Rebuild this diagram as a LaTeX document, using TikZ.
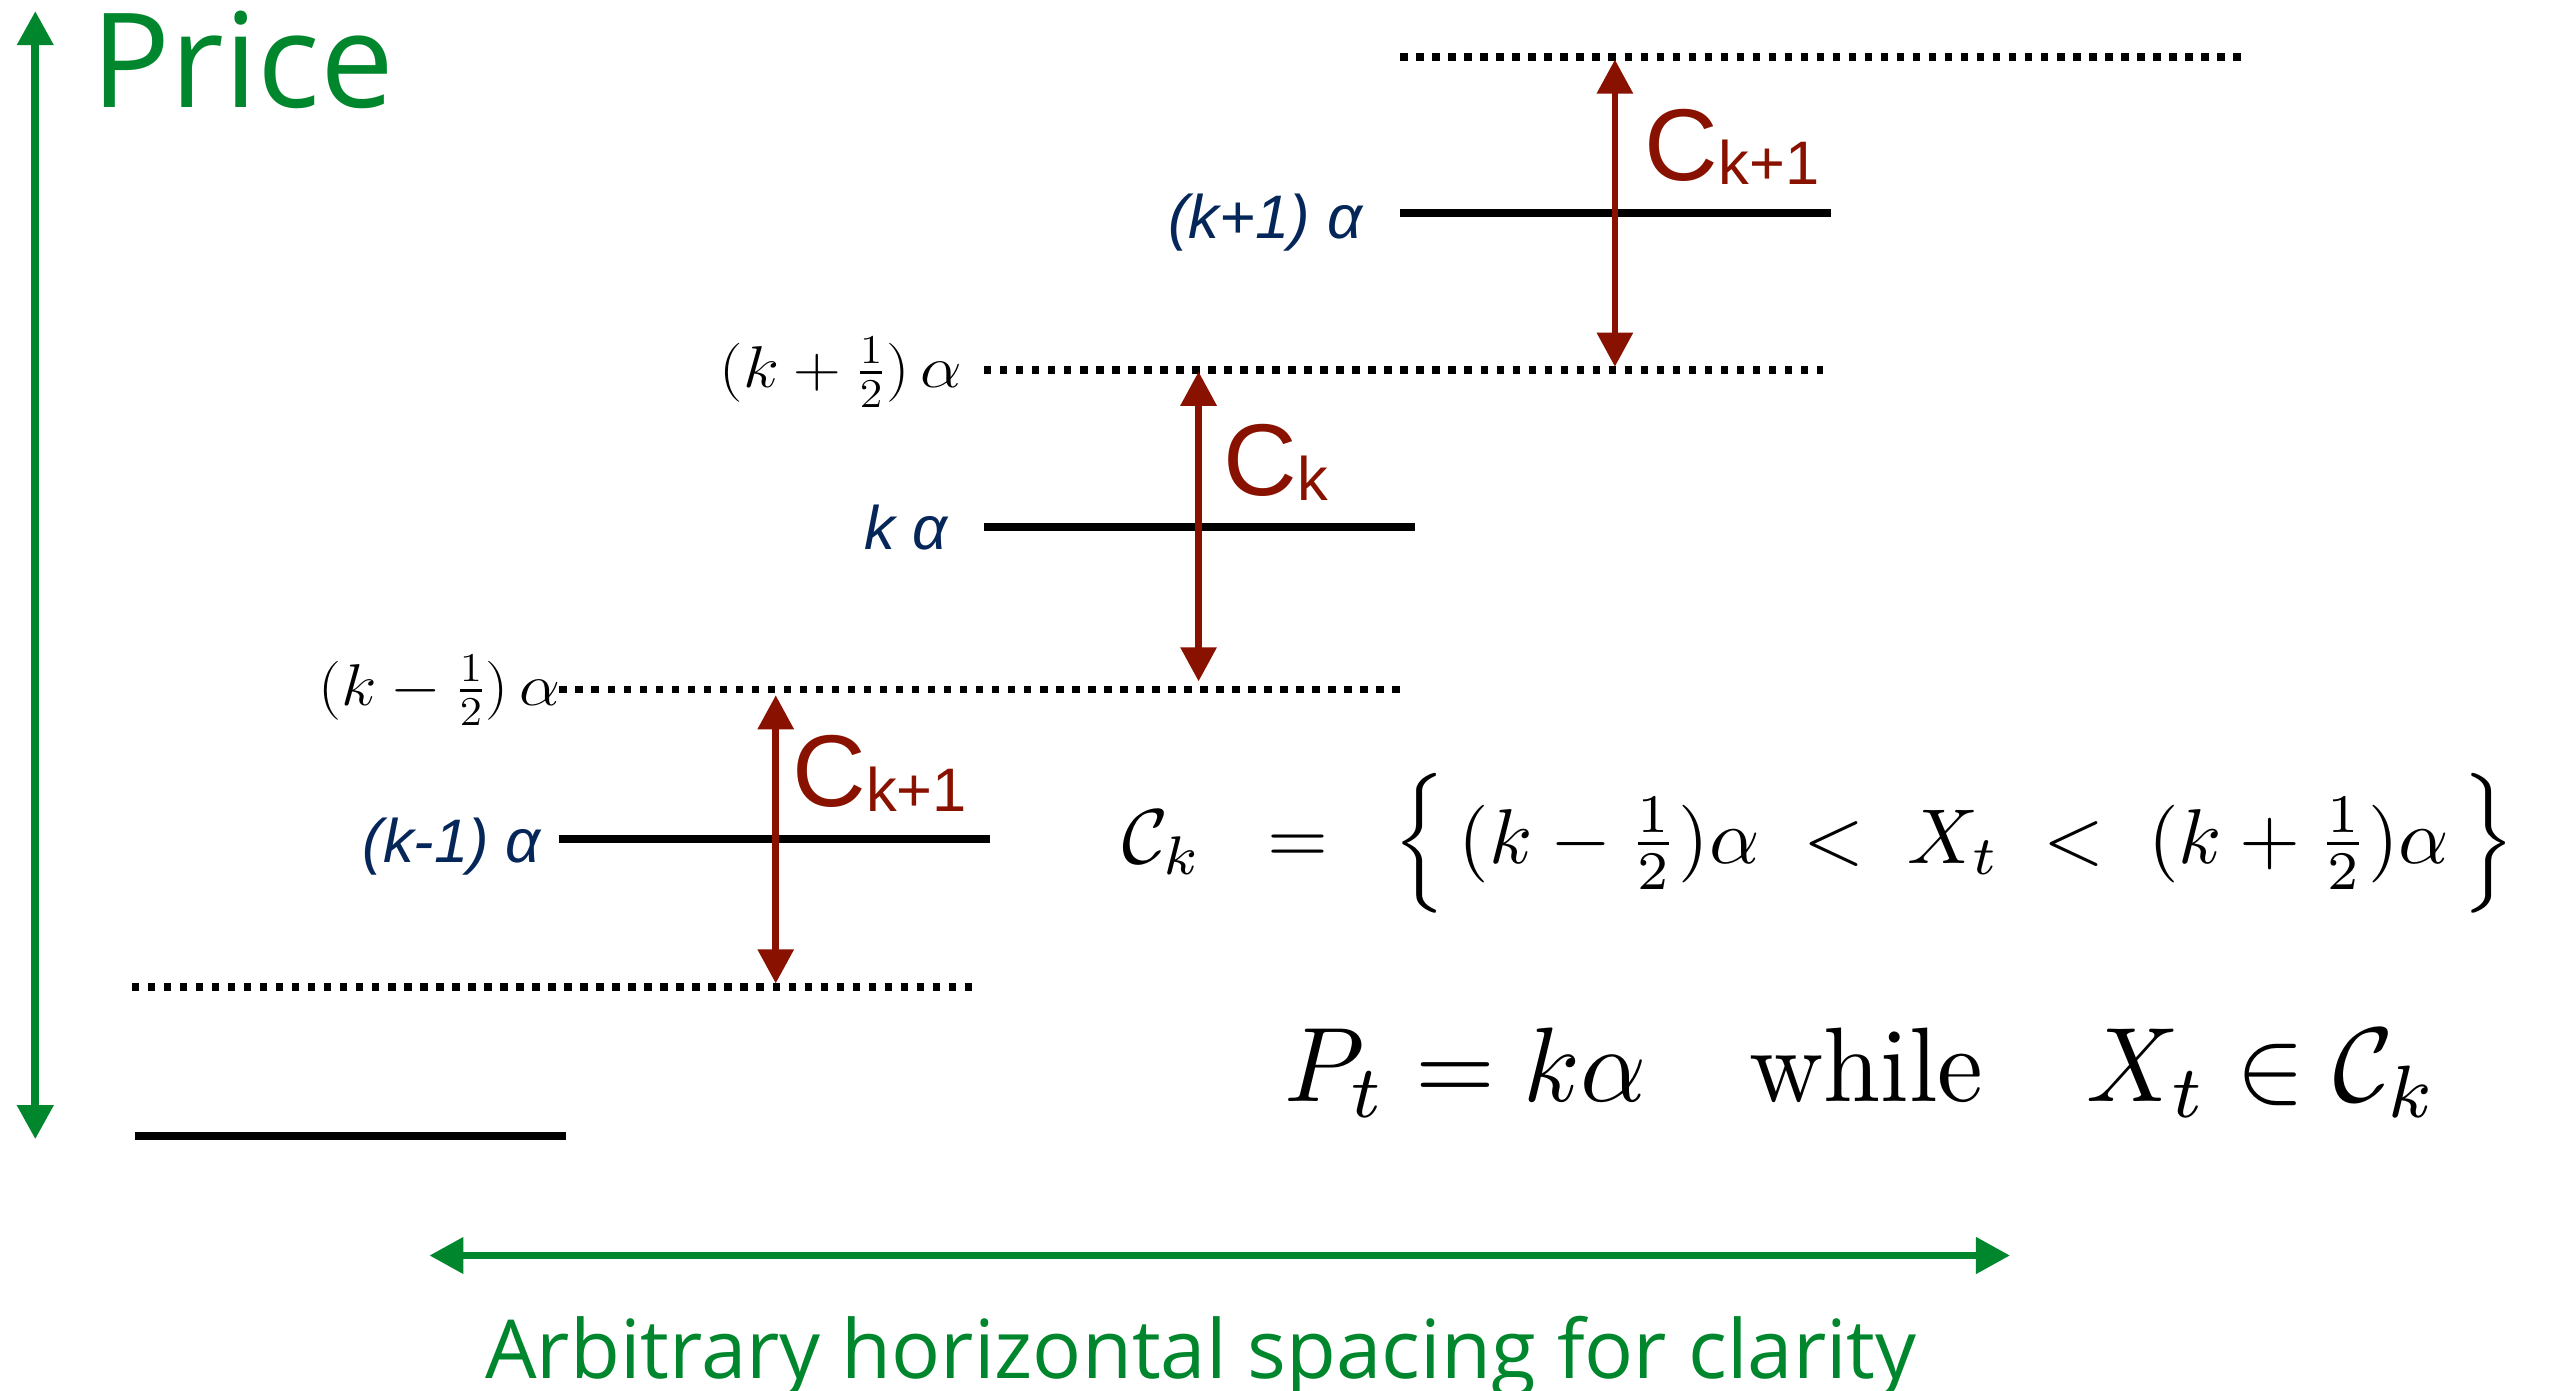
\documentclass[tikz,border=0pt]{standalone}
\usepackage{amsmath}
\usepackage{graphicx}
\usepackage{fontspec}
\newfontfamily\opensans{Open Sans}
\newfontfamily\libsans{Liberation Sans}
\usetikzlibrary{arrows.meta}
\definecolor{pgreen}{RGB}{0,135,45}
\definecolor{cred}{RGB}{137,17,0}
\definecolor{navy}{RGB}{5,38,89}
\tikzset{
  solidlvl/.style={line width=0.98mm, black},
  dotlvl/.style={line width=0.92mm, black, dash pattern=on 0.92mm off 1.05mm},
  redarr/.style={line width=0.8mm, cred, {Triangle[width=4.3mm,length=4.2mm]}-{Triangle[width=4.3mm,length=4.2mm]}},
  grnarr/.style={line width=0.95mm, pgreen, {Triangle[width=4.3mm,length=4.2mm]}-{Triangle[width=4.3mm,length=4.2mm]}},
  bluelab/.style={anchor=base east, inner sep=0, text=navy, font=\libsans\itshape\fontsize{21.5}{24}\selectfont},
  mathlab/.style={anchor=base east, inner sep=0, font=\fontsize{20}{24}\selectfont},
  redlab/.style={anchor=base west, inner sep=0, text=cred, font=\libsans},
}
\newcommand{\CLab}[1]{{\fontsize{35.7}{40}\selectfont C}\raisebox{-1.7pt}{\fontsize{21.5}{24}\selectfont #1}}
\newcommand{\HalfLab}[1]{\resizebox*{29.8mm}{8.6mm}{$(k#1\tfrac{1}{2})\,\alpha$}}
\begin{document}
\begin{tikzpicture}[x=0.2mm, y=-0.2mm]
\useasboundingbox (0,0) rectangle (1568,855);
% level lines
\coordinate (d1a) at (861,35);    \coordinate (d1b) at (1378,35);
\coordinate (s1a) at (861,131);   \coordinate (s1b) at (1126,131);
\coordinate (d2a) at (605,227.5); \coordinate (d2b) at (1121,227.5);
\coordinate (s2a) at (605,324);   \coordinate (s2b) at (870,324);
\coordinate (d3a) at (344,424);   \coordinate (d3b) at (861,424);
\coordinate (s3a) at (344,516);   \coordinate (s3b) at (609,516);
\coordinate (d4a) at (81,607);    \coordinate (d4b) at (598,607);
\coordinate (s4a) at (83,698.6);  \coordinate (s4b) at (348,698.6);
\draw[dotlvl] (d1a) -- (d1b);
\draw[solidlvl] (s1a) -- (s1b);
\draw[dotlvl] (d2a) -- (d2b);
\draw[solidlvl] (s2a) -- (s2b);
\draw[dotlvl] (d3a) -- (d3b);
\draw[solidlvl] (s3a) -- (s3b);
\draw[dotlvl] (d4a) -- (d4b);
\draw[solidlvl] (s4a) -- (s4b);
% red arrows
\coordinate (r1t) at (993,36.6);  \coordinate (r1b) at (993,225.5);
\coordinate (r2t) at (737,228.5); \coordinate (r2b) at (737,419);
\coordinate (r3t) at (477,427.5); \coordinate (r3b) at (477,604.7);
\draw[redarr] (r1t) -- (r1b);
\draw[redarr] (r2t) -- (r2b);
\draw[redarr] (r3t) -- (r3b);
\node[redlab] (c1) at (1011,110.7) {\CLab{k+1}};
\node[redlab] (c2) at (752,304.5) {\CLab{k}};
\node[redlab] (c3) at (487,496) {\CLab{k+1}};
% green arrows
\coordinate (gvt) at (21.7,6.8);  \coordinate (gvb) at (21.7,700.5);
\coordinate (ghl) at (264,772);   \coordinate (ghr) at (1236,772);
\draw[grnarr] (gvt) -- (gvb);
\draw[grnarr] (ghl) -- (ghr);
\node[anchor=base west, inner sep=0, text=pgreen, font=\opensans\fontsize{46}{50}\selectfont] (price) at (56,66) {Price};
\node[anchor=base, inner sep=0, text=pgreen, font=\opensans\fontsize{28.5}{32}\selectfont] (arb) at (738.5,847.5) {Arbitrary horizontal spacing for clarity};
% level labels
\node[bluelab] (l1) at (838,146.5) {(k+1) α};
\node[bluelab] (l2) at (583,338) {k α};
\node[bluelab] (l3) at (333,530.5) {(k-1) α};
\node[mathlab] (m1) at (592,238) {\HalfLab{+}};
\node[mathlab] (m2) at (345,433.6) {\HalfLab{-}};
% equations
\node[inner sep=0] (eq1) at (1118,518.8) {\resizebox*{171.2mm}{17.2mm}{$\mathcal{C}_k \;\;=\;\; \Big\{\,(k-\tfrac{1}{2})\alpha \;<\; X_t \;<\; (k+\tfrac{1}{2})\alpha\,\Big\}$}};
\node[inner sep=0] (eq2) at (1144.5,659.5) {\resizebox*{141.8mm}{11mm}{$P_t = k\alpha \quad \text{while} \quad X_t \in \mathcal{C}_k$}};
\end{tikzpicture}
\end{document}
